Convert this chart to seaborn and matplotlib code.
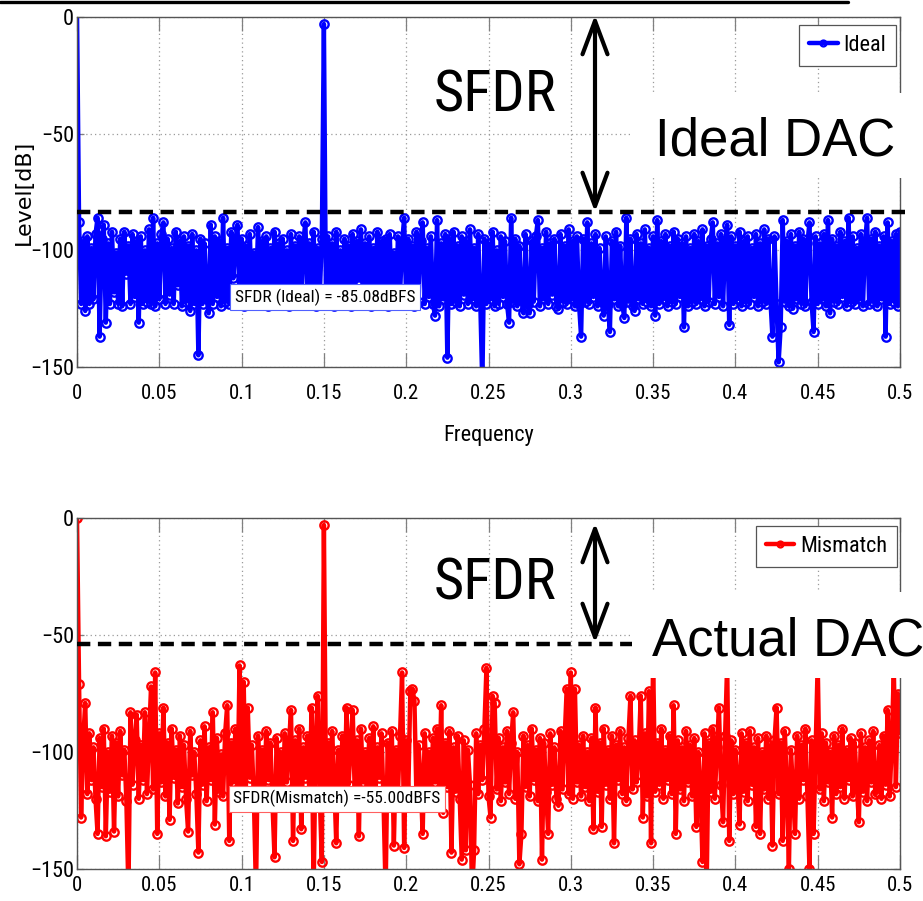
import numpy as np
import matplotlib
matplotlib.use("Agg")
import matplotlib.pyplot as plt
import seaborn as sns
from matplotlib import font_manager
from matplotlib.patches import Rectangle, FancyArrowPatch
from matplotlib.lines import Line2D

# ---------------- data ----------------
BIN_WIDTH = 0.00125  # normalized frequency spacing of the FFT bins

ideal_db = [
    2, -88, -123, -96, -126, -94, -123, -99, -121, -93, -86, -137, -95, -89, -131, -97, -123, -92, -118, -101,
    -123, -95, -124, -92, -110, -98, -123, -93, -120, -96, -131, -94, -123, -100, -122, -91, -123, -86, -124, -97,
    -121, -93, -88, -123, -95, -119, -99, -123, -92, -115, -96, -124, -94, -122, -98, -126, -93, -123, -100, -145,
    -95, -123, -97, -121, -127, -89, -123, -94, -120, -96, -124, -86, -122, -99, -123, -92, -112, -97, -89, -123,
    -95, -124, -98, -121, -93, -123, -101, -119, -90, -123, -96, -122, -94, -124, -99, -117, -92, -123, -97, -121,
    -95, -123, -100, -124, -93, -120, -98, -123, -94, -122, -96, -88, -123, -97, -121, -92, -124, -99, -119, -95,
    -3, -123, -94, -122, -97, -124, -92, -118, -100, -123, -95, -121, -98, -124, -93, -123, -96, -113, -91, -123,
    -97, -122, -94, -124, -99, -120, -92, -123, -96, -121, -95, -124, -93, -122, -101, -123, -94, -119, -97, -86,
    -123, -95, -121, -98, -124, -92, -122, -96, -88, -123, -99, -120, -94, -123, -128, -87, -124, -97, -121, -93,
    -146, -95, -123, -92, -122, -98, -124, -94, -119, -96, -123, -91, -121, -99, -124, -93, -122, -158, -95, -123,
    -97, -121, -92, -124, -100, -123, -94, -120, -96, -123, -131, -86, -122, -95, -124, -98, -121, -127, -93, -123,
    -127, -96, -122, -94, -87, -124, -99, -121, -92, -123, -97, -119, -95, -124, -125, -93, -122, -98, -123, -91,
    -121, -96, -124, -94, -123, -137, -95, -122, -88, -123, -97, -120, -93, -124, -99, -122, -128, -94, -123, -135,
    -96, -121, -92, -124, -98, -123, -129, -86, -122, -95, -124, -126, -93, -121, -97, -123, -91, -122, -99, -124,
    -94, -128, -87, -123, -96, -121, -93, -124, -98, -122, -92, -123, -95, -120, -97, -133, -94, -124, -99, -122,
    -93, -123, -96, -121, -91, -124, -98, -122, -95, -88, -123, -97, -120, -93, -124, -96, -89, -132, -94, -123,
    -98, -121, -92, -124, -96, -122, -94, -123, -99, -120, -93, -124, -97, -122, -91, -123, -95, -121, -137, -94,
    -123, -148, -133, -87, -122, -96, -124, -93, -125, -98, -121, -92, -123, -95, -124, -97, -88, -122, -135, -94,
    -123, -97, -121, -93, -124, -87, -127, -95, -122, -98, -123, -92, -120, -96, -124, -86, -122, -94, -123, -99,
    -121, -93, -124, -97, -86, -123, -95, -122, -92, -124, -98, -121, -94, -137, -88, -123, -96, -122, -93, -124,
    -92,
]

mismatch_db = [
    0, -71, -128, -95, -79, -118, -92, -112, -98, -120, -135, -94, -115, -90, -136, -100, -117, -93, -134, -96,
    -119, -91, -110, -99, -121, -160, -83, -114, -95, -84, -120, -97, -112, -83, -118, -94, -72, -116, -66, -135,
    -92, -113, -81, -119, -96, -129, -90, -111, -99, -122, -93, -115, -97, -120, -134, -91, -110, -100, -118, -143,
    -95, -114, -89, -121, -98, -112, -83, -131, -94, -117, -101, -119, -92, -80, -138, -96, -113, -90, -120, -63,
    -116, -70, -118, -81, -111, -97, -121, -160, -93, -115, -99, -119, -91, -112, -96, -122, -145, -94, -114, -100,
    -118, -92, -113, -97, -82, -138, -95, -116, -90, -133, -98, -111, -93, -120, -81, -160, -94, -76, -119, -147,
    -3, -115, -96, -121, -91, -112, -139, -99, -117, -93, -120, -81, -114, -97, -82, -118, -95, -136, -90, -113,
    -100, -121, -94, -116, -89, -119, -98, -111, -92, -122, -160, -96, -114, -91, -140, -99, -117, -93, -66, -141,
    -95, -118, -74, -73, -78, -120, -97, -112, -135, -92, -116, -100, -121, -94, -113, -90, -119, -80, -126, -96,
    -115, -91, -143, -98, -117, -93, -120, -146, -95, -142, -99, -114, -160, -142, -92, -118, -97, -112, -90, -64,
    -119, -128, -76, -79, -116, -94, -121, -98, -113, -91, -118, -96, -83, -120, -100, -148, -135, -93, -115, -97,
    -119, -90, -112, -99, -121, -94, -146, -96, -117, -135, -92, -114, -98, -120, -123, -91, -116, -95, -73, -118,
    -66, -120, -73, -113, -97, -119, -93, -115, -100, -121, -94, -133, -81, -117, -96, -132, -90, -114, -99, -120,
    -93, -139, -97, -112, -91, -118, -98, -121, -94, -76, -116, -95, -113, -100, -76, -128, -92, -119, -74, -139,
    -60, -117, -96, -114, -90, -120, -99, -112, -93, -118, -80, -135, -95, -116, -98, -121, -91, -113, -97, -119,
    -94, -132, -100, -115, -147, -92, -160, -96, -117, -90, -120, -98, -81, -114, -130, -93, -62, -138, -95, -118,
    -99, -113, -131, -92, -117, -96, -121, -91, -114, -98, -132, -94, -135, -100, -116, -93, -120, -97, -140, -95,
    -81, -118, -96, -138, -91, -114, -150, -99, -117, -135, -93, -120, -97, -112, -90, -119, -150, -95, -135, -98,
    -62, -116, -92, -121, -96, -113, -100, -128, -93, -118, -97, -115, -90, -120, -99, -112, -94, -119, -96, -114,
    -130, -92, -117, -98, -121, -95, -113, -91, -118, -117, -97, -120, -93, -114, -82, -119, -96, -65, -115, -75,
    -92,
]

xtick_values = [0, 0.05, 0.1, 0.15, 0.2, 0.25, 0.3, 0.35, 0.4, 0.45, 0.5]
xtick_labels = ["0", "0.05", "0.1", "0.15", "0.2", "0.25", "0.3", "0.35", "0.4", "0.45", "0.5"]
ytick_values = [-150, -100, -50, 0]
ytick_labels = ["\u2212150", "\u2212100", "\u221250", "0"]

sfdr_line_ideal = -83.5
sfdr_line_mismatch = -53.8
series_labels = ["Ideal", "Mismatch"]
box_texts = ["SFDR (Ideal) = -85.08dBFS", "SFDR(Mismatch) =-55.00dBFS"]

# ---------------- fonts ----------------
sns.set_style("white")
_names = {f.name for f in font_manager.fontManager.ttflist}


def pick(cands):
    for c in cands:
        if c in _names:
            return c
    return "DejaVu Sans"


NARROW = pick(["Liberation Sans Narrow", "DejaVu Sans Condensed", "Roboto Condensed",
               "Open Sans Condensed", "Liberation Sans"])
ARIAL = pick(["Liberation Sans", "Arimo", "DejaVu Sans"])
plt.rcParams["font.family"] = [ARIAL, "DejaVu Sans"]
for k in ("text.color", "axes.labelcolor", "xtick.labelcolor", "ytick.labelcolor"):
    plt.rcParams[k] = "black"

# ---------------- layout helpers ----------------
W, H = 923, 901


def fx(px):
    return px / W


def fy(py):
    return 1 - py / H


fig = plt.figure(figsize=(W / 100, H / 100), dpi=100)
fig.patch.set_facecolor("white")
ax1 = fig.add_axes([fx(77), fy(367), (900 - 77) / W, (367 - 17) / H])
ax2 = fig.add_axes([fx(77), fy(869), (900 - 77) / W, (869 - 518) / H])


def style(ax, xpad):
    ax.set_xlim(0, 0.5)
    ax.set_ylim(-150, 0)
    ax.set_xticks(xtick_values)
    ax.set_xticklabels(xtick_labels)
    ax.set_yticks(ytick_values)
    ax.set_yticklabels(ytick_labels)
    ax.grid(True, linestyle=(0, (1, 2.5)), color="#9a9a9a", linewidth=0.9)
    ax.set_axisbelow(True)
    ax.tick_params(axis="x", direction="in", length=10, width=0.9, top=True, bottom=True,
                   color="#808080", pad=xpad, labelsize=15, labelfontfamily=NARROW, labelcolor="black")
    ax.tick_params(axis="y", direction="in", length=5, width=0.9, left=True, right=True,
                   color="#808080", pad=2, labelsize=16, labelfontfamily=NARROW, labelcolor="black")
    for s in ax.spines.values():
        s.set_visible(True)
        s.set_color("#555555")
        s.set_linewidth(1.0)


freq_ideal = np.arange(len(ideal_db)) * BIN_WIDTH
freq_mis = np.arange(len(mismatch_db)) * BIN_WIDTH

line_kw = dict(marker="o", markersize=6, markerfacecolor="none", markeredgewidth=1.7,
               linewidth=3.2, estimator=None, sort=False)
sns.lineplot(x=freq_ideal, y=ideal_db, ax=ax1, color="#0000ff", markeredgecolor="#0000ff",
             label=series_labels[0], **line_kw)
sns.lineplot(x=freq_mis, y=mismatch_db, ax=ax2, color="#ff0000", markeredgecolor="#ff0000",
             label=series_labels[1], **line_kw)

style(ax1, 12)
style(ax2, 5)
ax1.set_ylabel("")
ax2.set_ylabel("")
ax2.set_xlabel("")
ax1.set_xlabel("Frequency", fontfamily=NARROW, fontsize=16, labelpad=16, color="black")

# SFDR dashed levels
ax1.plot([0, 0.503], [sfdr_line_ideal] * 2, ls=(0, (3, 1.7)), lw=3.2, color="black",
         clip_on=False, zorder=6)
ax2.plot([0, 0.5], [sfdr_line_mismatch] * 2, ls=(0, (3, 1.7)), lw=3.2, color="black",
         clip_on=False, zorder=6)

# SFDR value boxes
ax1.text(0.1507, -120, box_texts[0], ha="center", va="center", fontsize=12.5, fontfamily=NARROW,
         zorder=8, bbox=dict(boxstyle="square,pad=0.25", fc="white", ec="#5060ff", lw=0.8))
ax2.text(0.158, -120, box_texts[1], ha="center", va="center", fontsize=12.5, fontfamily=NARROW,
         zorder=8, bbox=dict(boxstyle="square,pad=0.25", fc="white", ec="#ff6060", lw=0.8))

# legends
for ax, (x1, y1) in ((ax1, (896, 25)), (ax2, (897, 526))):
    leg = ax.legend(loc="upper right", bbox_to_anchor=(fx(x1), fy(y1)), bbox_transform=fig.transFigure,
                    borderaxespad=0, fancybox=False, framealpha=1, edgecolor="#555555",
                    prop={"family": NARROW, "size": 16}, handlelength=1.3, handletextpad=0.25,
                    borderpad=0.45, markerscale=0.7)
    leg.get_frame().set_linewidth(0.9)

# y label
ax1.set_ylabel("Level[dB]", fontfamily="DejaVu Sans", fontsize=16, color="black")
ax1.yaxis.set_label_coords((34 - 77) / 823, 0.5)

# white panels behind the annotation texts
fig.add_artist(Rectangle((fx(633), fy(178)), 1.0, fy(93) - fy(178), transform=fig.transFigure,
                         fc="white", ec="none", zorder=3))
fig.add_artist(Rectangle((fx(632), fy(678)), 1.0, fy(592) - fy(678), transform=fig.transFigure,
                         fc="white", ec="none", zorder=3))

# big annotation texts
fig.text(fx(495), fy(112), "SFDR", ha="center", va="baseline", fontsize=42, fontfamily=NARROW,
         color="black", zorder=5)
fig.text(fx(495), fy(600), "SFDR", ha="center", va="baseline", fontsize=42, fontfamily=NARROW,
         color="black", zorder=5)
fig.text(fx(655), fy(155), "Ideal DAC", ha="left", va="baseline", fontsize=38, fontfamily=ARIAL,
         color="black", zorder=5)
fig.text(fx(652), fy(655), "Actual DAC", ha="left", va="baseline", fontsize=38, fontfamily=ARIAL,
         color="black", zorder=5)

# double-headed arrows
for y_a, y_b in ((15, 212), (523, 643)):
    arr = FancyArrowPatch((fx(595), fy(y_a)), (fx(595), fy(y_b)), transform=fig.transFigure,
                          arrowstyle="<->,head_length=1.2,head_width=0.45", mutation_scale=20,
                          lw=3, color="black", shrinkA=0, shrinkB=0, zorder=6)
    fig.add_artist(arr)

# thick line along the very top
fig.add_artist(Line2D([0, fx(848)], [fy(1.5)] * 2, transform=fig.transFigure, lw=2.4,
                      color="black", zorder=6))

fig.savefig("out.png", dpi=100)
